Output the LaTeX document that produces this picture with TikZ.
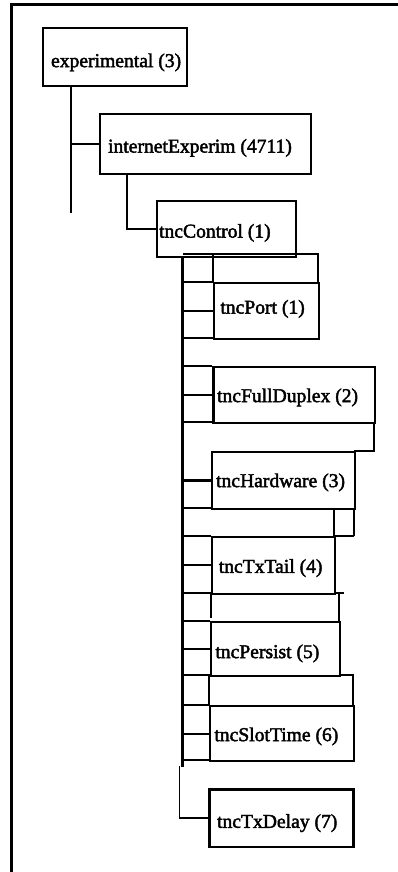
\documentclass[tikz,border=0pt]{standalone}
\usepackage{fontspec}
\setmainfont{Liberation Serif}[FakeBold=2.2]
\begin{document}
\begin{tikzpicture}[x=1pt,y=-1pt,
  ln/.style={line width=2.2pt},
  box/.style={draw,line width=2.2pt,inner sep=0pt,anchor=north west,
    font=\fontsize{19.6}{20}\selectfont},
  frame/.style={line width=2.8pt}]
\useasboundingbox (0,0) rectangle (398,872);
% frame
\draw[frame] (11.5,3.5) -- (11.5,872);
\draw[line width=2.2pt] (11,4.5) -- (398,4.5);
% boxes: \makebox[W][l]{\hspace{pad}text}
\node[box,text height=39pt,text depth=19pt] (exp) at (42,27) {\makebox[144pt][l]{\hspace{8pt}experimental (3)}};
\node[box,text height=38.5pt,text depth=21.5pt] (inet) at (99,113) {\makebox[211pt][l]{\hspace{8pt}internetExperim (4711)}};
\node[box,text height=37pt,text depth=19.5pt] (ctrl) at (156,199.5) {\makebox[138.5pt][l]{\hspace{2pt}tncControl (1)}};
\node[box,text height=30.8pt,text depth=25.5pt] (port) at (212.7,281.7) {\makebox[105.3pt][l]{\hspace{6.6pt}tncPort (1)}};
\node[box,text height=35pt,text depth=20.7pt] (fd) at (212.3,366) {\makebox[161.7pt][l]{\hspace{3.7pt}tncFullDuplex (2)}};
\node[box,text height=35pt,text depth=21.7pt] (hw) at (211,451) {\makebox[143pt][l]{\hspace{4pt}tncHardware (3)}};
\node[box,text height=36pt,text depth=21pt] (tx) at (211,535.7) {\makebox[123pt][l]{\hspace{6.7pt}tncTxTail (4)}};
\node[box,text height=36pt,text depth=18pt] (ps) at (210,621) {\makebox[129pt][l]{\hspace{4.3pt}tncPersist (5)}};
\node[box,text height=35pt,text depth=20pt] (st) at (209,705) {\makebox[144pt][l]{\hspace{4.3pt}tncSlotTime (6)}};
\node[box,text height=38.4pt,text depth=19pt] (dl) at (208.3,788.3) {\makebox[144pt][l]{\hspace{7.7pt}tncTxDelay (7)}};
% tree connectors
\coordinate (e1) at (71,213);
\coordinate (c1) at (127,228);
\coordinate (t) at (182.7,767);
\coordinate (d) at (179.3,766);
\draw[ln] (e1 |- exp.south) -- (e1);
\draw[ln] (e1 |- inet.west) -- (inet.west);
\draw[ln] (c1 |- inet.south) |- (ctrl.west);
\draw[line width=2.8pt] (t |- ctrl.south) -- (t);
\foreach \n in {port,fd,hw,tx,ps,st}
  \draw[ln] (t |- \n.west) -- (\n.west);
\draw[line width=1.4pt] (d) |- (dl.west);
% extra outline fragments
\draw[ln] (183,254) -- (318,254) -- (318,282);
\draw[ln] (183,281.7) -- (212.7,281.7);
\draw[ln] (212.7,254) -- (212.7,281.7);
\draw[ln] (183,338) -- (212.7,338);
\draw[ln] (183,366) -- (212.3,366);
\draw[ln] (183,421.7) -- (212.3,421.7);
\draw[ln] (374,421.7) -- (374,451) -- (354,451);
\draw[ln] (183,507.7) -- (211,507.7);
\draw[ln] (354,507.7) -- (354,535.7);
\draw[ln] (334,507.7) -- (334,535.7);
\draw[ln] (183,535.7) -- (211,535.7);
\draw[ln] (334,535.7) -- (354,535.7);
\draw[ln] (211,592.7) -- (211,618);
\draw[ln] (183,592.7) -- (211,592.7);
\draw[ln] (334,592.7) -- (343.5,592.7);
\draw[ln] (339,592.7) -- (339,621);
\draw[ln] (183,621) -- (210,621);
\draw[ln] (183,675) -- (210,675);
\draw[ln] (339,675) -- (353,675) -- (353,705);
\draw[ln] (209,675) -- (209,705);
\draw[ln] (183,705) -- (209,705);
\draw[line width=2.8pt] (183,760) -- (209,760);
\end{tikzpicture}
\end{document}
